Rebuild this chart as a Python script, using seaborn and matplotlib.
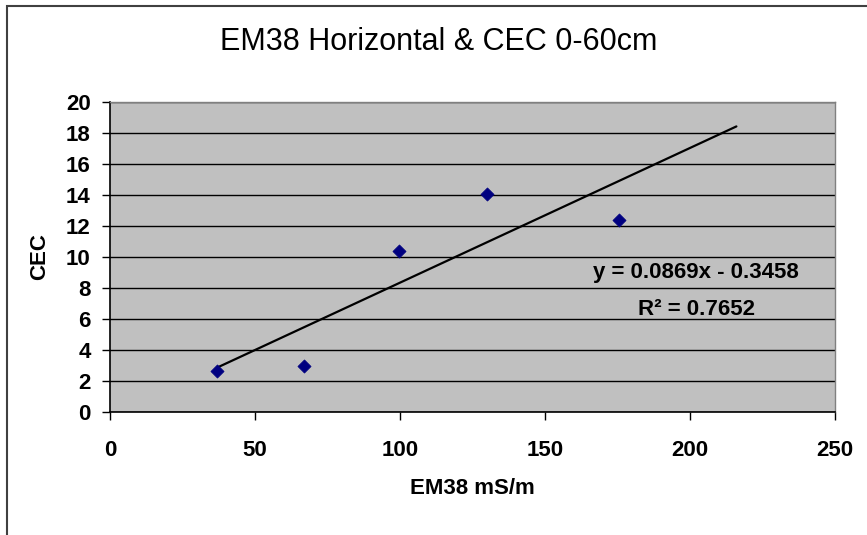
import numpy as np
import pandas as pd
import matplotlib
matplotlib.use("Agg")
import matplotlib.pyplot as plt
from matplotlib.patches import Rectangle
import seaborn as sns

# Dados
em38 = [37, 67, 99.5, 130, 175.5]
cec = [2.65, 2.95, 10.4, 14.05, 12.4]
slope = 0.0869
intercept = -0.3458
r2 = 0.7652
trend_end = 216

x_ticks = [0, 50, 100, 150, 200, 250]
y_ticks = [0, 2, 4, 6, 8, 10, 12, 14, 16, 18, 20]

df = pd.DataFrame({"EM38": em38, "CEC": cec})
trend_x = np.array([min(em38), trend_end])
trend = pd.DataFrame({"x": trend_x, "y": slope * trend_x + intercept})

sns.set_theme(style="white")
plt.rcParams["font.family"] = ["Liberation Sans", "DejaVu Sans"]
plt.rcParams.update({"text.color": "black", "axes.labelcolor": "black",
                     "xtick.color": "black", "ytick.color": "black"})

fig = plt.figure(figsize=(8.67, 5.35), dpi=100)
ax = fig.add_axes([110 / 867, 1 - 412 / 535, 725 / 867, 310 / 535])
ax.set_facecolor("#C0C0C0")

# moldura da area do grafico (cortada a direita e embaixo)
fig.patches.append(Rectangle((7 / 867, -0.5), 2, 0.5 + 1 - 6 / 535,
                             transform=fig.transFigure, fill=False,
                             edgecolor="#404040", linewidth=1.5))

sns.lineplot(data=trend, x="x", y="y", color="black", linewidth=1.6, ax=ax, zorder=3)
sns.scatterplot(data=df, x="EM38", y="CEC", marker="D", s=45, color="#000080",
                edgecolor="#000080", linewidth=0.5, ax=ax, zorder=4)

ax.set_xlim(0, 250)
ax.set_ylim(0, 20)
ax.set_xticks(x_ticks)
ax.set_yticks(y_ticks)
ax.yaxis.grid(True, color="black", linewidth=1.0)
ax.set_axisbelow(True)

for s in ["left", "bottom"]:
    ax.spines[s].set_color("black")
    ax.spines[s].set_linewidth(1.2)
for s in ["top", "right"]:
    ax.spines[s].set_color("#808080")
    ax.spines[s].set_linewidth(1.0)

ax.tick_params(axis="both", which="major", direction="out", length=5.5, width=1,
               color="black", labelcolor="black", labelsize=16)
ax.tick_params(axis="x", pad=15, bottom=True)
ax.tick_params(axis="y", pad=8.5, left=True)
for lbl in ax.get_xticklabels() + ax.get_yticklabels():
    lbl.set_fontweight("bold")

ax.set_xlabel("EM38 mS/m", fontsize=16, fontweight="bold", va="center", color="black")
ax.set_ylabel("CEC", fontsize=16, fontweight="bold", va="center", color="black")
ax.xaxis.set_label_coords(0.5, (412 - 488) / 310)
ax.yaxis.set_label_coords((40 - 110) / 725, 0.5)

ax.text(202, 8.97, f"y = {slope:.4f}x - {abs(intercept):.4f}", ha="center", va="center",
        fontsize=16, fontweight="bold", color="black", zorder=5)
ax.text(202.4, 6.6, f"R\u00b2 = {r2:.4f}", ha="center", va="center",
        fontsize=16, fontweight="bold", color="black", zorder=5)

fig.text(439 / 867, 1 - 42 / 535, "EM38 Horizontal & CEC 0-60cm", ha="center", va="center",
         fontsize=22, color="black")

fig.savefig("out.png", dpi=100)
